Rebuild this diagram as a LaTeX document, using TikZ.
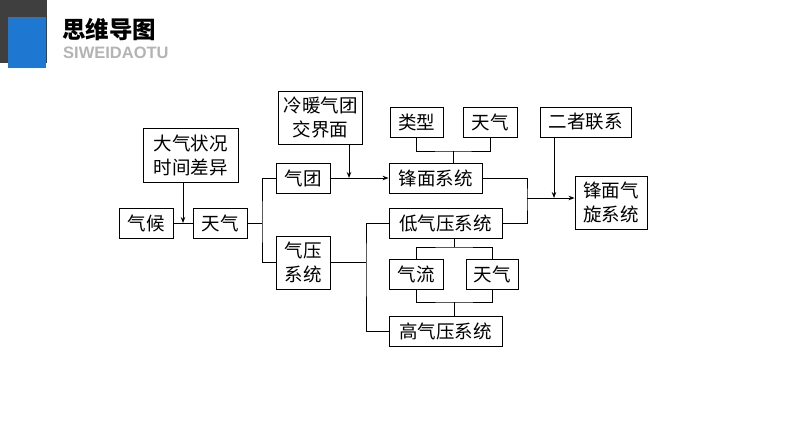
\documentclass[tikz,border=0pt]{standalone}
\usepackage{fontspec}
\newfontfamily\cjk{Noto Sans CJK SC}
\setsansfont{Liberation Sans}
\usetikzlibrary{arrows.meta,calc}
\definecolor{hdrdark}{HTML}{3F3F3F}
\definecolor{hdrblue}{HTML}{1E78D2}
\definecolor{hdrgray}{HTML}{B4B4B4}
\tikzset{
  box/.style={draw=black, line width=0.9pt, fill=white, inner sep=0pt, align=center,
    font=\cjk\fontsize{18.5}{24}\selectfont},
  conn/.style={line width=0.9pt, draw=black},
  arr/.style={conn, -{Stealth[length=6pt,width=4.5pt]}},
}
\begin{document}
\begin{tikzpicture}[x=1pt,y=-1pt]
\useasboundingbox (0,0) rectangle (794,447);
\fill[white] (0,0) rectangle (794,447);
% header
\fill[hdrdark] (0,0) rectangle (47,63);
\fill[hdrblue] (8,17) rectangle (46,68);
\node[anchor=west, inner sep=0pt, font=\cjk\bfseries\fontsize{23.5}{26}\selectfont] (title) at (62,30) {思维导图};
\node[anchor=west, inner sep=0pt, text=hdrgray, font=\sffamily\bfseries\fontsize{16.5}{18}\selectfont] (sub) at (63,52.5) {SIWEIDAOTU};
% nodes
\node[box, minimum width=54pt, minimum height=30pt] (qh) at (146,223) {气候};
\node[box, minimum width=54pt, minimum height=30pt] (tq1) at (220,223) {天气};
\node[box, minimum width=95pt, minimum height=54pt] (dq) at (190.5,155) {大气状况\\时间差异};
\node[box, minimum width=54pt, minimum height=30pt] (qt) at (303,178) {气团};
\node[box, minimum width=54pt, minimum height=53pt] (qy) at (303,262.5) {气压\\系统};
\node[box, minimum width=84pt, minimum height=53pt] (lm) at (320.5,118) {冷暖气团\\交界面};
\node[box, minimum width=93pt, minimum height=30pt] (fm) at (435.5,178) {锋面系统};
\node[box, minimum width=53pt, minimum height=30pt] (lx) at (416.5,122) {类型};
\node[box, minimum width=54pt, minimum height=30pt] (tq2) at (490,122) {天气};
\node[box, minimum width=91pt, minimum height=30pt] (ez) at (585.5,122) {二者联系};
\node[box, minimum width=72pt, minimum height=53pt] (fq) at (611,202.5) {锋面气\\旋系统};
\node[box, minimum width=113pt, minimum height=30pt] (dy) at (445.5,223) {低气压系统};
\node[box, minimum width=54pt, minimum height=30pt] (ql) at (416,274) {气流};
\node[box, minimum width=52pt, minimum height=30pt] (tq3) at (492,274) {天气};
\node[box, minimum width=113pt, minimum height=30pt] (gy) at (445.5,331) {高气压系统};
% junction coordinates
\coordinate (m1) at ($(qh.east)!.5!(tq1.west)$);
\coordinate (j1) at (262,223);
\coordinate (m2) at (349,178);
\coordinate (b1) at (453,151);
\coordinate (j2) at (527,198);
\coordinate (m3) at (554,198);
\coordinate (j3) at (366,262.5);
\coordinate (b2) at (454,247);
\coordinate (b3) at (454,302);
% connectors
\draw[conn] (qh.east) -- (tq1.west);
\draw[arr] (m1 |- dq.south) -- (m1);
\draw[conn] (tq1.east) -- (j1);
\draw[conn] (qt.west) -| (j1) |- (qy.west);
\draw[arr] (qt.east) -- (fm.west);
\draw[arr] (m2 |- lm.south) -- (m2);
\draw[conn] (lx.south) |- (b1) -| (tq2.south);
\draw[conn] (b1) -- (b1 |- fm.north);
\draw[conn] (fm.east) -| (j2) |- (dy.east);
\draw[arr] (j2) -- (fq.west |- j2);
\draw[arr] (m3 |- ez.south) -- (m3);
\draw[conn] (qy.east) -- (j3);
\draw[conn] (dy.west) -| (j3) |- (gy.west);
\draw[conn] (ql.north) |- (b2) -| (tq3.north);
\draw[conn] (b2) -- (b2 |- dy.south);
\draw[conn] (ql.south) |- (b3) -| (tq3.south);
\draw[conn] (b3) -- (b3 |- gy.north);
\end{tikzpicture}
\end{document}
